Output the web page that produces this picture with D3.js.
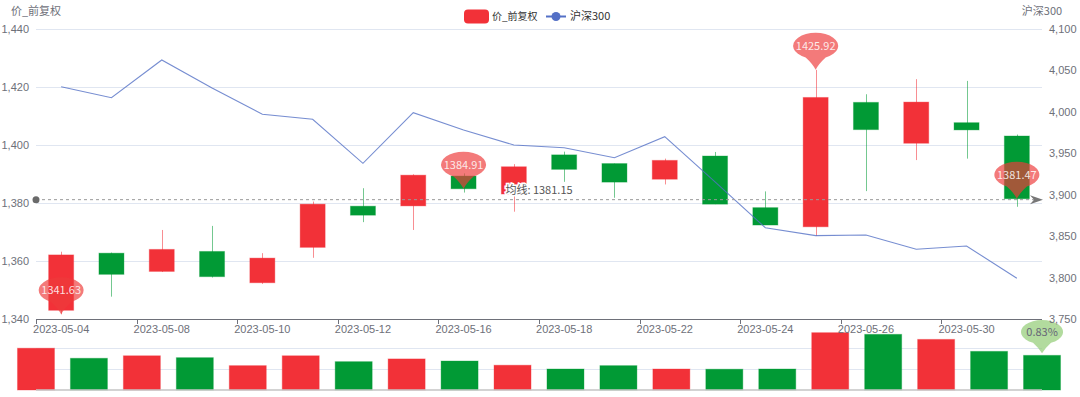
<!DOCTYPE html>
<html>
<head>
<meta charset="utf-8">
<script src="https://cdn.jsdelivr.net/npm/d3@7"></script>
<style>
  body { margin: 0; background: #fff; }
  svg { display: block; font-family: 'Noto Sans CJK SC', 'Noto Sans', sans-serif; }
</style>
</head>
<body>
<div id="chart"></div>
<script>
// data
var dates = ["2023-05-04","2023-05-05","2023-05-08","2023-05-09","2023-05-10",
             "2023-05-11","2023-05-12","2023-05-15","2023-05-16","2023-05-17",
             "2023-05-18","2023-05-19","2023-05-22","2023-05-23","2023-05-24",
             "2023-05-25","2023-05-26","2023-05-29","2023-05-30","2023-05-31"];
var opens  = [1343.0,1362.7,1356.4,1363.3,1352.5,1364.7,1378.9,1379.0,1389.3,1383.1,
              1396.6,1393.6,1388.2,1396.2,1378.4,1371.8,1414.7,1400.6,1407.7,1403.1];
var closes = [1362.1,1355.4,1364.0,1354.6,1361.0,1379.6,1375.8,1389.6,1384.91,1392.5,
              1391.6,1387.2,1394.7,1379.6,1372.4,1416.4,1405.3,1414.8,1405.2,1381.47];
var lows   = [1341.63,1347.7,1356.2,1354.3,1352.1,1361.1,1373.4,1370.7,1383.6,1377.0,
              1387.3,1381.8,1386.4,1379.6,1372.4,1368.6,1384.1,1394.8,1395.3,1378.7];
var highs  = [1363.2,1362.9,1370.7,1372.1,1362.7,1380.5,1385.1,1389.9,1390.2,1393.4,
              1397.7,1393.6,1395.3,1397.6,1384.0,1425.92,1417.5,1422.7,1422.1,1403.6];
var hs300  = [4030.4,4017.1,4062.6,4028.8,3997.1,3991.0,3937.9,3999.0,3978.0,3960.0,
              3956.7,3944.7,3970.0,3915.4,3860.2,3850.6,3851.4,3834.1,3838.1,3799.1];
var volumes = [19.9,15.1,16.3,15.4,11.6,16.3,13.5,14.8,13.8,11.8,
               10.0,11.6,10.0,9.9,10.0,27.3,26.5,24.1,18.4,16.5];
var priceTicks = [1340,1360,1380,1400,1420,1440];
var indexTicks = [3750,3800,3850,3900,3950,4000,4050,4100];
var dateLabels = ["2023-05-04","2023-05-08","2023-05-10","2023-05-12","2023-05-16",
                  "2023-05-18","2023-05-22","2023-05-24","2023-05-26","2023-05-30"];
var pricePins = [{date: "2023-05-04", value: 1341.63},
                 {date: "2023-05-16", value: 1384.91},
                 {date: "2023-05-25", value: 1425.92},
                 {date: "2023-05-31", value: 1381.47}];
var volumePin = {date: "2023-05-31", label: "0.83%"};
var avgValue = 1381.15;
var volTicks = [10, 20];

var RED = "#f23138", GREEN = "#019a35", BLUE = "#5470c6";
var AXIS_TEXT = "#6e7079", GRID = "#e0e6f1";

var width = 1080, height = 397;
var plotL = 36, plotR = 1042, plotT = 29, plotB = 319;

var svg = d3.select("#chart")
  .append("svg")
    .attr("width", width)
    .attr("height", height);

// scales
var x = d3.scaleBand().domain(dates).range([plotL, plotR]);
var y = d3.scaleLinear().domain([1340, 1440]).range([plotB, plotT]);
var yIdx = d3.scaleLinear().domain([3750, 4100]).range([plotB, plotT]);
var xVol = d3.scaleBand().domain(dates).range([9.5, 1068.5]);
var yVol = d3.scaleLinear().domain([0, 30]).range([390, 327]);
var bw = x.bandwidth();
function cx(d) { return x(d) + bw / 2; }

// gridlines
svg.append("g")
  .selectAll("line")
  .data(priceTicks.slice(1))
  .enter()
  .append("line")
    .attr("x1", plotL).attr("x2", plotR)
    .attr("y1", function(d) { return Math.round(y(d)) + 0.5; })
    .attr("y2", function(d) { return Math.round(y(d)) + 0.5; })
    .attr("stroke", GRID);

svg.append("g")
  .selectAll("line")
  .data(volTicks)
  .enter()
  .append("line")
    .attr("x1", plotL).attr("x2", plotR)
    .attr("y1", function(d) { return Math.round(yVol(d)) + 0.5; })
    .attr("y2", function(d) { return Math.round(yVol(d)) + 0.5; })
    .attr("stroke", GRID);

// candles
var idx = d3.range(dates.length);
function color(i) { return closes[i] >= opens[i] ? RED : GREEN; }

var candles = svg.append("g");
candles.selectAll("line")
  .data(idx)
  .enter()
  .append("line")
    .attr("x1", function(i) { return Math.round(cx(dates[i])) + 0.5; })
    .attr("x2", function(i) { return Math.round(cx(dates[i])) + 0.5; })
    .attr("y1", function(i) { return y(highs[i]); })
    .attr("y2", function(i) { return y(lows[i]); })
    .attr("stroke", color)
    .attr("stroke-opacity", 0.55);

candles.selectAll("rect")
  .data(idx)
  .enter()
  .append("rect")
    .attr("x", function(i) { return cx(dates[i]) - 12.5; })
    .attr("width", 25)
    .attr("y", function(i) { return y(Math.max(opens[i], closes[i])); })
    .attr("height", function(i) { return Math.max(1, Math.abs(y(opens[i]) - y(closes[i]))); })
    .attr("fill", color)
    .attr("stroke", color)
    .attr("stroke-opacity", 0.35);

// volume bars
svg.append("g")
  .selectAll("rect")
  .data(idx)
  .enter()
  .append("rect")
    .attr("x", function(i) { return xVol(dates[i]) + xVol.bandwidth() / 2 - 18.5; })
    .attr("width", 37)
    .attr("y", function(i) { return yVol(volumes[i]); })
    .attr("height", function(i) { return yVol(0) - yVol(volumes[i]); })
    .attr("fill", color)
    .attr("stroke", color)
    .attr("stroke-opacity", 0.35);

svg.append("line")
  .attr("x1", plotL).attr("x2", plotR)
  .attr("y1", yVol(0)).attr("y2", yVol(0))
  .attr("stroke", "#c4c4c4")
  .attr("stroke-width", 1.5);

// 沪深300 line
var line = d3.line()
  .x(function(d, i) { return cx(dates[i]); })
  .y(function(d) { return yIdx(d); });

svg.append("path")
  .datum(hs300)
  .attr("d", line)
  .attr("fill", "none")
  .attr("stroke", BLUE)
  .attr("stroke-opacity", 0.8)
  .attr("stroke-width", 1.1);

// average mark line
var ay = y(avgValue);
svg.append("line")
  .attr("x1", plotL).attr("x2", plotR - 8)
  .attr("y1", ay).attr("y2", ay)
  .attr("stroke", "#999")
  .attr("stroke-dasharray", "3,3");
svg.append("circle")
  .attr("cx", plotL).attr("cy", ay).attr("r", 3.5)
  .attr("fill", "#6a6a6a");
svg.append("path")
  .attr("d", "M" + (plotR + 1) + "," + ay + " L" + (plotR - 12) + "," + (ay - 4.5) +
             " L" + (plotR - 8) + "," + ay + " L" + (plotR - 12) + "," + (ay + 4.5) + "Z")
  .attr("fill", "#777");
svg.append("text")
  .attr("x", (plotL + plotR) / 2)
  .attr("y", ay - 6)
  .attr("text-anchor", "middle")
  .attr("font-size", 11)
  .attr("fill", "#555")
  .attr("stroke", "#fff")
  .attr("stroke-width", 3)
  .attr("paint-order", "stroke")
  .text("均线: " + avgValue.toFixed(2));

// pins
var pinPath = "M0,0 Q-3,-6 -10,-12.35 A22.5,13 0 1 1 10,-12.35 Q3,-6 0,0Z";

var pins = svg.append("g")
  .selectAll("g")
  .data(pricePins)
  .enter()
  .append("g")
    .attr("transform", function(d) { return "translate(" + cx(d.date) + "," + y(d.value) + ")"; });
pins.append("path")
  .attr("d", pinPath)
  .attr("fill", "#ee3b3b")
  .attr("fill-opacity", 0.68);
pins.append("text")
  .attr("y", -24)
  .attr("dy", "0.35em")
  .attr("text-anchor", "middle")
  .attr("font-size", 11)
  .attr("fill", "#fff")
  .attr("fill-opacity", 0.85)
  .text(function(d) { return d.value.toFixed(2); });

var vi = dates.indexOf(volumePin.date);
var vpin = svg.append("g")
  .attr("transform", "translate(" + (xVol(volumePin.date) + xVol.bandwidth() / 2) + "," + (yVol(volumes[vi]) - 2) + ")");
vpin.append("path")
  .attr("d", "M0,0 Q-3,-5 -9,-10.5 A21,12 0 1 1 9,-10.5 Q3,-5 0,0Z")
  .attr("fill", "#91cc75")
  .attr("fill-opacity", 0.7);
vpin.append("text")
  .attr("y", -21)
  .attr("dy", "0.35em")
  .attr("text-anchor", "middle")
  .attr("font-size", 11)
  .attr("fill", "#667")
  .text(volumePin.label);

// Add left Y axis
var yAxis = svg.append("g")
  .attr("transform", "translate(" + plotL + ",0)")
  .call(d3.axisLeft(y).tickValues(priceTicks).tickSize(0).tickPadding(7).tickFormat(d3.format(",")));
yAxis.select(".domain").remove();
yAxis.selectAll("text").attr("fill", AXIS_TEXT).attr("font-size", 11).attr("font-family", null);

// Add right Y axis
var yAxisR = svg.append("g")
  .attr("transform", "translate(" + plotR + ",0)")
  .call(d3.axisRight(yIdx).tickValues(indexTicks).tickSize(0).tickPadding(7).tickFormat(d3.format(",")));
yAxisR.select(".domain").remove();
yAxisR.selectAll("text").attr("fill", AXIS_TEXT).attr("font-size", 11).attr("font-family", null);

// Add X axis
svg.append("line")
  .attr("x1", plotL).attr("x2", plotR)
  .attr("y1", plotB + 0.5).attr("y2", plotB + 0.5)
  .attr("stroke", AXIS_TEXT);
svg.append("g")
  .selectAll("line")
  .data(dates.filter(function(d, i) { return i % 2 === 0; }))
  .enter()
  .append("line")
    .attr("x1", function(d) { return Math.round(x(d)) + 0.5; })
    .attr("x2", function(d) { return Math.round(x(d)) + 0.5; })
    .attr("y1", plotB).attr("y2", plotB + 5)
    .attr("stroke", AXIS_TEXT);
var xAxis = svg.append("g")
  .attr("transform", "translate(0," + plotB + ")")
  .call(d3.axisBottom(x).tickValues(dateLabels).tickSize(0).tickPadding(6));
xAxis.select(".domain").remove();
xAxis.selectAll("text").attr("fill", AXIS_TEXT).attr("font-size", 11).attr("font-family", null);

// axis names
svg.append("text")
  .attr("x", plotL).attr("y", 15)
  .attr("text-anchor", "middle")
  .attr("font-size", 11)
  .attr("fill", AXIS_TEXT)
  .text("价_前复权");
svg.append("text")
  .attr("x", plotR).attr("y", 15)
  .attr("text-anchor", "middle")
  .attr("font-size", 11)
  .attr("fill", AXIS_TEXT)
  .text("沪深300");

// legend
var legend = svg.append("g");
legend.append("rect")
  .attr("x", 464).attr("y", 9.5).attr("width", 25).attr("height", 14).attr("rx", 4)
  .attr("fill", RED);
legend.append("text")
  .attr("x", 492).attr("y", 16.5).attr("dy", "0.35em")
  .attr("font-size", 10).attr("fill", "#333")
  .text("价_前复权");
legend.append("line")
  .attr("x1", 546).attr("x2", 566).attr("y1", 16.5).attr("y2", 16.5)
  .attr("stroke", BLUE).attr("stroke-width", 2);
legend.append("circle")
  .attr("cx", 556).attr("cy", 16.5).attr("r", 4.5)
  .attr("fill", BLUE);
legend.append("text")
  .attr("x", 570).attr("y", 16.5).attr("dy", "0.35em")
  .attr("font-size", 11).attr("fill", "#333")
  .text("沪深300");
</script>
</body>
</html>
